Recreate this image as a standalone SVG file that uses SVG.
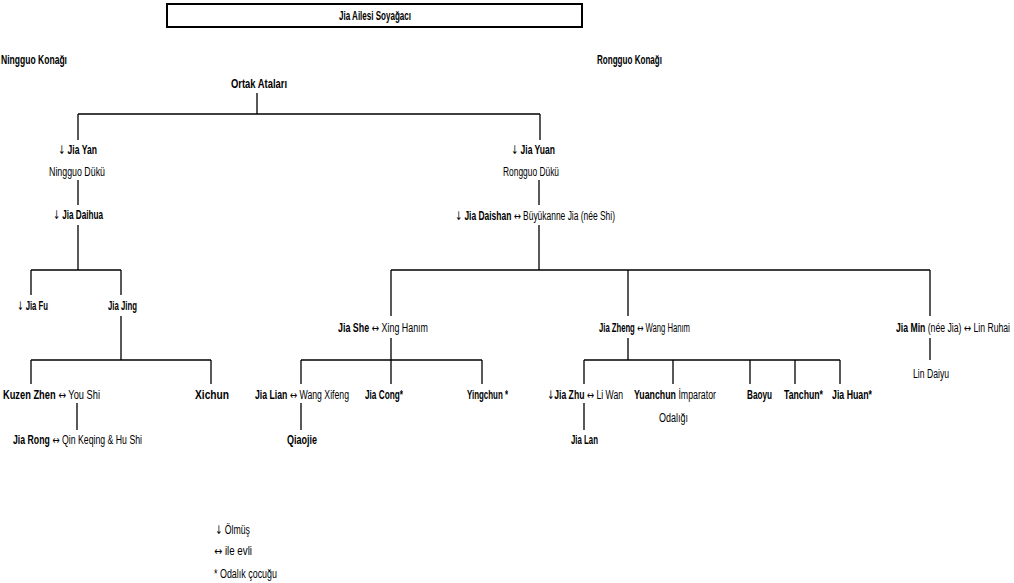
<svg xmlns="http://www.w3.org/2000/svg" width="1014" height="583" viewBox="0 0 1014 583">
<style>
text{font-family:"Liberation Sans",Arial,sans-serif;font-size:12px;fill:#000}
.b{font-weight:bold}
.a{font-family:"DejaVu Sans",sans-serif;font-weight:normal}
.c{stroke:#000;stroke-width:1.3;fill:none}
</style>
<rect x="0" y="0" width="1014" height="583" fill="#fff"/>
<g id="title"><rect x="167" y="4" width="415" height="23" fill="#fff" stroke="#000" stroke-width="2"/><text class="b" x="339" y="20" textLength="72" lengthAdjust="spacingAndGlyphs">Jia Ailesi Soyağacı</text></g>
<g id="ningguo-house"><text class="b" x="1" y="64" textLength="66" lengthAdjust="spacingAndGlyphs">Ningguo Konağı</text></g>
<g id="rongguo-house"><text class="b" x="597" y="64" textLength="65" lengthAdjust="spacingAndGlyphs">Rongguo Konağı</text></g>
<g class="c" id="connectors">
<path d="M257 93V114M78 114H540M78 114V140M540 114V140"/>
<path d="M78 180V205M78 225V270M31 270H121M31 270V295M121 270V295"/>
<path d="M121 316V360M31 360H211M31 360V384M211 360V384M77 403V430"/>
<path d="M539 180V205M539 225V270M391 270H930M391 270V316M628 270V316M930 270V316M930 338V360"/>
<path d="M391 338V360M301 360H482M301 360V384M391 360V384M482 360V384M301 403V430"/>
<path d="M628 338V360M584 360H840M584 360V384M673 360V384M750 360V384M795 360V384M840 360V384M584 403V430"/>
</g>
<g id="ortak"><text class="b" x="231" y="88" textLength="56" lengthAdjust="spacingAndGlyphs">Ortak Ataları</text></g>
<g id="jia-yan"><text x="58" y="154" textLength="39" lengthAdjust="spacingAndGlyphs"><tspan class="a">↓</tspan> <tspan class="b">Jia Yan</tspan></text><text x="49" y="176" textLength="56" lengthAdjust="spacingAndGlyphs">Ningguo Dükü</text></g>
<g id="jia-daihua"><text x="53" y="219" textLength="50" lengthAdjust="spacingAndGlyphs"><tspan class="a">↓</tspan> <tspan class="b">Jia Daihua</tspan></text></g>
<g id="jia-fu"><text x="17" y="310" textLength="31" lengthAdjust="spacingAndGlyphs"><tspan class="a">↓</tspan> <tspan class="b">Jia Fu</tspan></text></g>
<g id="jia-jing"><text class="b" x="108" y="310" textLength="29" lengthAdjust="spacingAndGlyphs">Jia Jing</text></g>
<g id="zhen"><text x="3" y="399" textLength="97" lengthAdjust="spacingAndGlyphs"><tspan class="b">Kuzen Zhen</tspan> <tspan class="a">↔</tspan> You Shi</text></g>
<g id="xichun"><text class="b" x="195" y="399" textLength="34" lengthAdjust="spacingAndGlyphs">Xichun</text></g>
<g id="jia-rong"><text x="13" y="444" textLength="129" lengthAdjust="spacingAndGlyphs"><tspan class="b">Jia Rong</tspan> <tspan class="a">↔</tspan> Qin Keqing &amp; Hu Shi</text></g>
<g id="jia-yuan"><text x="511" y="154" textLength="44" lengthAdjust="spacingAndGlyphs"><tspan class="a">↓</tspan> <tspan class="b">Jia Yuan</tspan></text><text x="503" y="176" textLength="56" lengthAdjust="spacingAndGlyphs">Rongguo Dükü</text></g>
<g id="jia-daishan"><text x="455" y="220" textLength="160" lengthAdjust="spacingAndGlyphs"><tspan class="a">↓</tspan> <tspan class="b">Jia Daishan</tspan> <tspan class="a">↔</tspan> Büyükanne Jia (née Shi)</text></g>
<g id="jia-she"><text x="338" y="332" textLength="90" lengthAdjust="spacingAndGlyphs"><tspan class="b">Jia She</tspan> <tspan class="a">↔</tspan> Xing Hanım</text></g>
<g id="jia-zheng"><text x="599" y="332" textLength="91" lengthAdjust="spacingAndGlyphs"><tspan class="b">Jia Zheng</tspan> <tspan class="a">↔</tspan> Wang Hanım</text></g>
<g id="jia-min"><text x="896" y="332" textLength="114" lengthAdjust="spacingAndGlyphs"><tspan class="b">Jia Min</tspan> (née Jia) <tspan class="a">↔</tspan> Lin Ruhai</text></g>
<g id="lin-daiyu"><text x="913" y="378" textLength="36" lengthAdjust="spacingAndGlyphs">Lin Daiyu</text></g>
<g id="jia-lian"><text x="255" y="399" textLength="94" lengthAdjust="spacingAndGlyphs"><tspan class="b">Jia Lian</tspan> <tspan class="a">↔</tspan> Wang Xifeng</text></g>
<g id="jia-cong"><text class="b" x="365" y="399" textLength="38" lengthAdjust="spacingAndGlyphs">Jia Cong*</text></g>
<g id="yingchun"><text class="b" x="467" y="399" textLength="41" lengthAdjust="spacingAndGlyphs">Yingchun *</text></g>
<g id="qiaojie"><text class="b" x="287" y="444" textLength="30" lengthAdjust="spacingAndGlyphs">Qiaojie</text></g>
<g id="jia-zhu"><text x="547" y="399" textLength="76" lengthAdjust="spacingAndGlyphs"><tspan class="a">↓</tspan><tspan class="b">Jia Zhu</tspan> <tspan class="a">↔</tspan> Li Wan</text></g>
<g id="yuanchun"><text x="634" y="399" textLength="82" lengthAdjust="spacingAndGlyphs"><tspan class="b">Yuanchun</tspan> İmparator</text><text x="659" y="422" textLength="29" lengthAdjust="spacingAndGlyphs">Odalığı</text></g>
<g id="baoyu"><text class="b" x="747" y="399" textLength="25" lengthAdjust="spacingAndGlyphs">Baoyu</text></g>
<g id="tanchun"><text class="b" x="784" y="399" textLength="39" lengthAdjust="spacingAndGlyphs">Tanchun*</text></g>
<g id="jia-huan"><text class="b" x="832" y="399" textLength="40" lengthAdjust="spacingAndGlyphs">Jia Huan*</text></g>
<g id="jia-lan"><text class="b" x="571" y="444" textLength="27" lengthAdjust="spacingAndGlyphs">Jia Lan</text></g>
<g id="legend"><text x="215" y="534" textLength="35" lengthAdjust="spacingAndGlyphs"><tspan class="a">↓</tspan> Ölmüş</text><text x="214" y="555" textLength="38" lengthAdjust="spacingAndGlyphs"><tspan class="a">↔</tspan> ile evli</text><text x="214" y="578" textLength="63" lengthAdjust="spacingAndGlyphs">* Odalık çocuğu</text></g>
</svg>
